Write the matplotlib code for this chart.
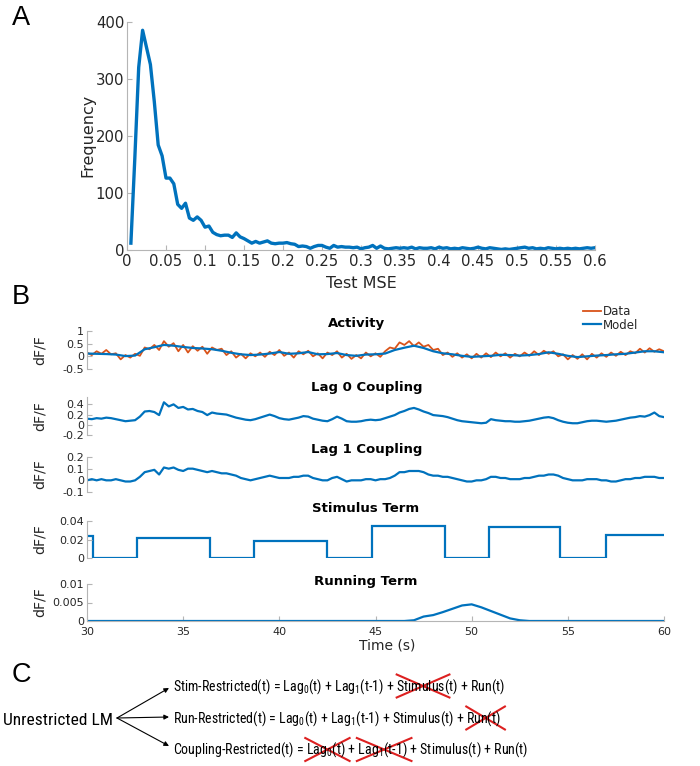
import numpy as np
import matplotlib
matplotlib.use('Agg')
import matplotlib.pyplot as plt
from matplotlib import font_manager
from matplotlib.patches import FancyArrowPatch
from matplotlib.lines import Line2D

# ---- panel A: histogram of test MSE (bins of 0.005) ----
mse_freq = [12, 160, 320, 385, 355, 325, 260, 184, 165, 126,
            126, 116, 80, 73, 82, 56, 52, 58, 52, 40,
            42, 31, 27, 25, 26, 26, 22, 30, 23, 20,
            16, 12, 15, 12, 14, 16, 12, 11, 12, 12,
            13, 11, 10, 6, 7, 6, 3, 6, 8, 8,
            5, 3, 8, 5, 6, 5, 5, 4, 5, 2,
            4, 5, 8, 3, 7, 3, 2, 3, 4, 3,
            4, 3, 5, 2, 4, 3, 3, 4, 2, 5,
            3, 4, 2, 3, 2, 4, 3, 2, 3, 5,
            3, 2, 4, 3, 2, 1, 2, 1, 2, 3,
            4, 5, 3, 4, 2, 3, 2, 4, 3, 2,
            3, 2, 3, 2, 3, 2, 3, 4, 3, 4]
mse_step = 0.005

# ---- panel B: traces, 30-60 s ----
# activity model, every 0.5 s
act_model = [0.11, 0.10, 0.09, 0.07, 0.01, 0.03, 0.28, 0.36, 0.45, 0.42,
             0.37, 0.33, 0.31, 0.28, 0.22, 0.14, 0.08, 0.05, 0.07, 0.11,
             0.17, 0.10, 0.12, 0.17, 0.08, 0.09, 0.13, 0.05, 0.02, 0.07,
             0.08, 0.11, 0.25, 0.34, 0.42, 0.33, 0.20, 0.12, 0.08, 0.02,
             -0.02, 0.00, 0.02, 0.06, 0.05, 0.03, 0.05, 0.09, 0.16, 0.10,
             0.02, -0.03, 0.00, 0.03, 0.05, 0.08, 0.10, 0.15, 0.20, 0.20,
             0.16]
# activity data, every 0.25 s
act_data = [0.15, 0.05, 0.20, 0.10, 0.25, 0.08, 0.12, -0.12, 0.05, -0.05,
            0.10, 0.02, 0.35, 0.28, 0.45, 0.25, 0.60, 0.38, 0.52, 0.20,
            0.45, 0.15, 0.40, 0.22, 0.38, 0.10, 0.35, 0.25, 0.30, 0.05,
            0.20, -0.05, 0.10, -0.08, 0.12, 0.00, 0.15, -0.02, 0.18, 0.05,
            0.25, 0.02, 0.15, -0.05, 0.20, 0.08, 0.22, 0.00, 0.12, -0.08,
            0.15, 0.05, 0.20, -0.05, 0.10, -0.10, 0.05, -0.08, 0.15, 0.00,
            0.12, -0.02, 0.20, 0.35, 0.30, 0.55, 0.45, 0.60, 0.40, 0.55,
            0.38, 0.45, 0.25, 0.30, 0.05, 0.15, -0.02, 0.12, -0.05, 0.08,
            -0.08, 0.10, -0.05, 0.12, -0.03, 0.15, 0.00, 0.12, -0.05, 0.10,
            0.00, 0.15, 0.02, 0.20, 0.05, 0.22, 0.10, 0.20, 0.00, 0.08,
            -0.12, 0.05, -0.10, 0.08, -0.12, 0.10, -0.05, 0.12, -0.02, 0.15,
            0.02, 0.18, 0.05, 0.20, 0.12, 0.30, 0.15, 0.32, 0.18, 0.28,
            0.20]
# lag 0 coupling, every 0.25 s
lag0 = [0.12, 0.11, 0.13, 0.12, 0.14, 0.13, 0.11, 0.09, 0.07, 0.08,
        0.09, 0.16, 0.26, 0.27, 0.25, 0.19, 0.44, 0.36, 0.40, 0.33,
        0.35, 0.30, 0.31, 0.27, 0.25, 0.19, 0.24, 0.22, 0.21, 0.20,
        0.17, 0.14, 0.12, 0.10, 0.09, 0.11, 0.14, 0.17, 0.20, 0.17,
        0.13, 0.11, 0.10, 0.12, 0.14, 0.17, 0.16, 0.12, 0.10, 0.08,
        0.07, 0.11, 0.16, 0.12, 0.07, 0.06, 0.06, 0.07, 0.09, 0.10,
        0.09, 0.10, 0.13, 0.16, 0.19, 0.24, 0.27, 0.31, 0.33, 0.30,
        0.26, 0.23, 0.19, 0.18, 0.17, 0.15, 0.12, 0.09, 0.07, 0.06,
        0.05, 0.04, 0.03, 0.04, 0.11, 0.09, 0.08, 0.07, 0.07, 0.06,
        0.06, 0.07, 0.08, 0.10, 0.12, 0.14, 0.15, 0.13, 0.09, 0.06,
        0.04, 0.03, 0.03, 0.05, 0.07, 0.08, 0.08, 0.07, 0.06, 0.07,
        0.08, 0.10, 0.12, 0.14, 0.15, 0.17, 0.16, 0.19, 0.24, 0.17,
        0.15]
# lag 1 coupling, every 0.25 s
lag1 = [0.00, 0.01, 0.00, 0.01, 0.00, 0.00, 0.01, 0.00, -0.01, -0.01,
        0.00, 0.03, 0.07, 0.08, 0.09, 0.05, 0.11, 0.10, 0.11, 0.09,
        0.08, 0.10, 0.10, 0.09, 0.08, 0.07, 0.08, 0.07, 0.06, 0.06,
        0.05, 0.04, 0.02, 0.01, 0.00, 0.01, 0.02, 0.03, 0.04, 0.03,
        0.02, 0.02, 0.02, 0.03, 0.03, 0.04, 0.04, 0.02, 0.01, 0.00,
        0.00, 0.02, 0.03, 0.01, -0.01, 0.00, 0.00, 0.00, 0.01, 0.01,
        0.00, 0.01, 0.01, 0.02, 0.04, 0.07, 0.07, 0.08, 0.08, 0.08,
        0.07, 0.05, 0.04, 0.04, 0.03, 0.03, 0.02, 0.01, 0.00, -0.01,
        -0.01, 0.00, 0.00, 0.01, 0.03, 0.03, 0.02, 0.02, 0.01, 0.01,
        0.01, 0.02, 0.02, 0.03, 0.04, 0.04, 0.05, 0.05, 0.04, 0.02,
        0.01, 0.00, 0.00, 0.00, 0.01, 0.01, 0.01, 0.00, 0.00, -0.01,
        -0.01, 0.00, 0.01, 0.01, 0.02, 0.02, 0.03, 0.03, 0.03, 0.02,
        0.02]
# stimulus term: step edges (s) and levels
stim_edges = [30, 30.3, 32.6, 36.4, 38.7, 42.5, 44.8, 48.6, 50.9, 54.6, 57.0, 60]
stim_levels = [0.024, 0, 0.022, 0, 0.018, 0, 0.035, 0, 0.033, 0, 0.025]
# running term, every 0.5 s
run_term = ([0.0] * 34 +
            [0.0002, 0.0012, 0.0016, 0.0024, 0.0033, 0.0042, 0.0045,
             0.0037, 0.0027, 0.0017, 0.0007, 0.0002, 0.0] +
            [0.0] * 14)

BLUE = '#0072BD'
ORANGE = '#D95319'
SPINE = '#b5b5b5'
TXT = '#262626'

plt.rcParams['font.family'] = 'DejaVu Sans'
plt.rcParams['axes.unicode_minus'] = False

W, H = 700, 766
fig = plt.figure(figsize=(7, 7.66), dpi=100)


def fx(px):
    return px / W


def fy(py):
    return 1 - py / H


def add_ax(left, top, right, bottom):
    return fig.add_axes([fx(left), fy(bottom), fx(right - left), (bottom - top) / H])


def clean(ax, size):
    for s in ['top', 'right']:
        ax.spines[s].set_visible(False)
    for s in ['left', 'bottom']:
        ax.spines[s].set_color(SPINE)
    ax.tick_params(direction='in', color=SPINE, labelcolor=TXT, labelsize=size,
                   length=3.5, width=0.8, pad=2)
    ax.yaxis.set_major_formatter(plt.FuncFormatter(lambda v, p: f'{v:g}'))
    ax.xaxis.set_major_formatter(plt.FuncFormatter(lambda v, p: f'{v:g}'))


# ---------------- panel A ----------------
axA = add_ax(127, 21.7, 595, 250)
mse_x = mse_step * np.arange(1, len(mse_freq) + 1)
axA.plot(mse_x, mse_freq, color=BLUE, lw=2.4)
axA.set_xlim(0, 0.6)
axA.set_ylim(0, 400)
axA.set_xticks(np.arange(0, 0.61, 0.05))
axA.set_yticks([0, 100, 200, 300, 400])
clean(axA, 10.7)
axA.tick_params(axis='x', pad=3)
axA.set_xlabel('Test MSE', fontsize=11.5, color=TXT, va='top')
axA.xaxis.set_label_coords(0.5, -0.115)
axA.set_ylabel('Frequency', fontsize=11.5, color=TXT)
axA.yaxis.set_label_coords(-0.068, 0.5)

# ---------------- panel B ----------------
BL, BR = 87, 664
t_half = np.linspace(30, 60, len(act_model))
t_q = np.linspace(30, 60, len(act_data))

rows = [
    ('Activity', 331, 369, (-0.5, 1.0), [-0.5, 0, 0.5, 1], 356.5, 323),
    ('Lag 0 Coupling', 396.7, 435, (-0.2, 0.55), [-0.2, 0, 0.2, 0.4], 366.7, 387),
    ('Lag 1 Coupling', 457, 492, (-0.1, 0.2), [-0.1, 0, 0.1, 0.2], 366.7, 449),
    ('Stimulus Term', 521, 558, (0, 0.04), [0, 0.02, 0.04], 366, 508),
    ('Running Term', 584, 621, (0, 0.01), [0, 0.005, 0.01], 365.5, 581.5),
]
axes_B = []
for name, top, bot, ylim, yt, tx, ty in rows:
    ax = add_ax(BL, top, BR, bot)
    ax.set_xlim(30, 60)
    ax.set_ylim(*ylim)
    ax.set_yticks(yt)
    clean(ax, 8.0)
    ax.set_ylabel('dF/F', fontsize=10.2, color=TXT)
    ax.yaxis.set_label_coords(-0.069, 0.5)
    fig.text(fx(tx), fy(ty), name, fontsize=9.5, fontweight='bold',
             ha='center', va='center', color='black')
    axes_B.append(ax)

ax_act, ax_l0, ax_l1, ax_st, ax_run = axes_B
ax_act.plot(t_q, act_data, color=ORANGE, lw=1.3, label='Data')
ax_act.plot(t_half, act_model, color=BLUE, lw=1.6, label='Model')
ax_l0.plot(np.linspace(30, 60, len(lag0)), lag0, color=BLUE, lw=1.6)
ax_l1.plot(np.linspace(30, 60, len(lag1)), lag1, color=BLUE, lw=1.6)
ax_st.stairs(stim_levels, stim_edges, baseline=None, color=BLUE, lw=1.6)
ax_run.plot(np.linspace(30, 60, len(run_term)), run_term, color=BLUE, lw=1.6)

for ax in axes_B[:-1]:
    ax.spines['bottom'].set_visible(False)
    ax.set_xticks([])
ax_run.set_xticks([30, 35, 40, 45, 50, 55, 60])
ax_run.tick_params(axis='x', pad=4.5)
ax_run.set_xlabel('Time (s)', fontsize=10, color=TXT, va='top')
ax_run.xaxis.set_label_coords(0.52, -0.48)

ax_act.legend(loc='upper left', bbox_to_anchor=(fx(583), fy(305)),
              bbox_transform=fig.transFigure, frameon=False, fontsize=8.5,
              handlelength=1.5, handletextpad=0.15, labelspacing=0.05,
              borderpad=0, borderaxespad=0, labelcolor=TXT)

# ---------------- panel C ----------------
names = {f.name for f in font_manager.fontManager.ttflist}
cfont, eq_size, lm_size = 'Liberation Sans', 8.8, 10.5
for cand in ['Liberation Sans Narrow', 'Arial Narrow', 'Roboto Condensed',
             'Noto Sans Condensed', 'Open Sans Condensed']:
    if cand in names:
        cfont, eq_size, lm_size = cand, 10.0, 12.5
        break
plt.rcParams['mathtext.fontset'] = 'custom'
plt.rcParams['mathtext.rm'] = cfont
plt.rcParams['mathtext.it'] = cfont
eq_kw = dict(fontsize=eq_size, family=cfont, color='black')

fig.text(fx(3), fy(725), 'Unrestricted LM', fontsize=lm_size, family=cfont,
         ha='left', va='baseline')

eq_lines = [
    (690.5, ['Stim-Restricted(t) = Lag$_0$(t) + Lag$_1$(t-1) + ', ('Stimulus', True),
             '(t) + Run(t)']),
    (722.5, ['Run-Restricted(t) = Lag$_0$(t) + Lag$_1$(t-1) + Stimulus(t) + ',
             ('Run(t)', True)]),
    (754, ['Coupling-Restricted(t) = ', ('Lag$_0$(t)', True), ' + ',
           ('Lag$_1$(t-1)', True), ' + Stimulus(t) + Run(t)']),
]

renderer = fig.canvas.get_renderer()


def text_width(s):
    t = fig.text(0, 0, s, **eq_kw)
    w = t.get_window_extent(renderer).width
    t.remove()
    return w


x0 = 173
for base, parts in eq_lines:
    full = ''.join(p if isinstance(p, str) else p[0] for p in parts)
    fig.text(fx(x0), fy(base), full, ha='left', va='baseline', **eq_kw)
    prefix = ''
    for p in parts:
        if isinstance(p, str):
            prefix += p
            continue
        seg = p[0]
        right = x0 + text_width(prefix + seg)
        left = right - text_width(seg)
        a, b = left - 1, right + 4
        top, bot = base - 16, base + 7
        for (xa, ya, xb, yb) in [(a, top, b, bot), (a, bot, b, top)]:
            fig.add_artist(Line2D([fx(xa), fx(xb)], [fy(ya), fy(yb)],
                                  transform=fig.transFigure, color='#dd2020', lw=1.5))
        prefix += seg

for ty in [688, 717, 746]:
    fig.add_artist(FancyArrowPatch((fx(117), fy(718)), (fx(169), fy(ty)),
                                   transform=fig.transFigure, arrowstyle='-|>',
                                   mutation_scale=7, lw=0.8, color='black',
                                   shrinkA=0, shrinkB=0))

# panel letters
for letter, ly in [('A', 18), ('B', 297), ('C', 675)]:
    fig.text(fx(21), fy(ly), letter, fontsize=19.5, family='Liberation Sans',
             ha='center', va='center')

fig.savefig('out.png', dpi=100)
